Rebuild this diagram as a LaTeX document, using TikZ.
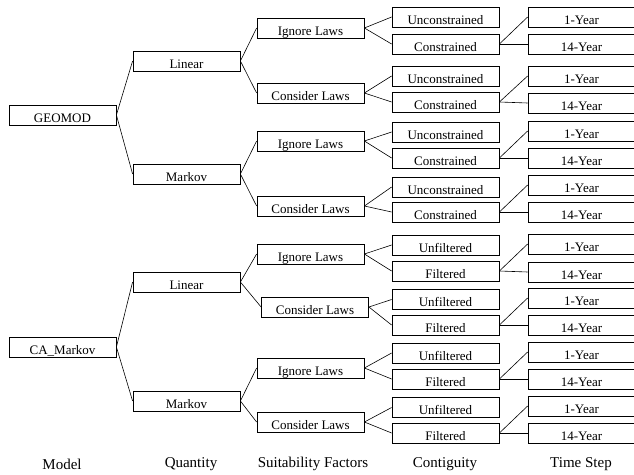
\documentclass[tikz,border=0pt]{standalone}
\usepackage{fontspec}
\setmainfont{Liberation Serif}
\usepackage{tikz}
\usetikzlibrary{positioning}
\tikzset{
  tbox/.style={draw, line width=0.8pt, minimum width=107pt, minimum height=20pt,
    inner sep=0pt, text height=14pt, text depth=0pt, font=\fontsize{13}{15}\selectfont},
  link/.style={line width=0.6pt},
  caption/.style={font=\fontsize{15}{17}\selectfont}
}
\begin{document}
\begin{tikzpicture}[x=1pt,y=-1pt]
\useasboundingbox (0,0) rectangle (634,474);

% model boxes
\node[tbox] (geomod) at (62.5,115) {GEOMOD};
\node[tbox] (camarkov) at (62.5,347) {CA\_Markov};

% quantity boxes
\foreach \n/\y/\descr in {q1/61/Linear, q2/174/Markov, q3/282/Linear, q4/401/Markov}
\node[tbox] (\n) at (186.5,\y) {\descr};

% suitability boxes
\foreach \n/\x/\y/\descr in {s1/310.5/28/Ignore Laws, s2/310.5/93/Consider Laws,
  s3/310.5/141/Ignore Laws, s4/310.5/206/Consider Laws, s5/310.5/254/Ignore Laws,
  s6/315/307/Consider Laws, s7/310.5/368/Ignore Laws, s8/310.5/422/Consider Laws}
\node[tbox] (\n) at (\x,\y) {\descr};

% contiguity and time step boxes
\foreach \i/\yu/\yc/\ya/\yb/\free/\fixed in {1/17/44/17/44/Unconstrained/Constrained,
  2/76/102/76/103/Unconstrained/Constrained, 3/132/158/131/158/Unconstrained/Constrained,
  4/187/212/185/212/Unconstrained/Constrained, 5/245/271/244/272/Unfiltered/Filtered,
  6/299.5/325/298/325/Unfiltered/Filtered, 7/353/379/352/379/Unfiltered/Filtered,
  8/407.5/433/406/433/Unfiltered/Filtered}
{
\node[tbox] (u\i) at (445.5,\yu) {\free};
\node[tbox] (c\i) at (445.5,\yc) {\fixed};
\node[tbox] (a\i) at (581.5,\ya) {1-Year};
\node[tbox] (b\i) at (581.5,\yb) {14-Year};
\draw[link] (s\i.east) -- (u\i.west);
\draw[link] (s\i.east) -- (c\i.west);
\draw[link] (c\i.east) -- (a\i.west);
\draw[link] (c\i.east) -- (b\i.west);
}

% branches to the left
\foreach \p/\c in {geomod/q1, geomod/q2, camarkov/q3, camarkov/q4,
  q1/s1, q1/s2, q2/s3, q2/s4, q3/s5, q3/s6, q4/s7, q4/s8}
\draw[link] (\p.east) -- (\c.west);

% column titles
\foreach \n/\x/\descr in {tmodel/62/Model, tquant/191/Quantity, tsuit/313/Suitability Factors,
  tcont/445/Contiguity, tstep/581/Time Step}
\node[caption] (\n) at (\x,464) {\descr};
\end{tikzpicture}
\end{document}
